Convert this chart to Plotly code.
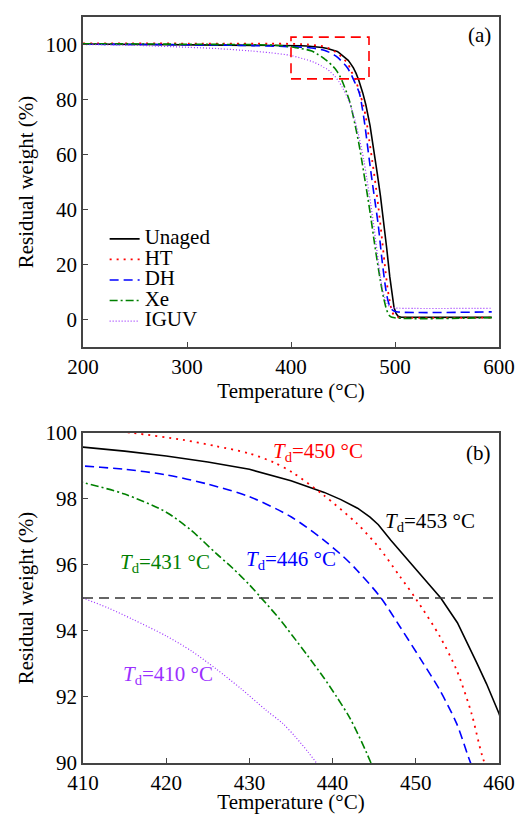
import plotly.graph_objects as go
from plotly.subplots import make_subplots

# ---------------- data ----------------
unaged_T = [200, 250, 300, 350, 380, 400, 410, 415, 420, 425, 430, 435, 439, 441, 443, 444.5, 445.5, 447, 449, 451, 453, 455,
            457.3, 458.5, 460, 462.5, 465, 469, 472, 476, 480, 483, 486, 489, 492, 495, 497, 499, 501, 503, 506, 520, 593]
unaged_W = [100.2, 100.1, 100.0, 99.9, 99.8, 99.7, 99.57, 99.45, 99.3, 99.12, 98.9, 98.55, 98.2, 97.98, 97.72, 97.45, 97.22, 96.75, 96.15, 95.58, 95.0, 94.25,
            93.05, 92.4, 91.5, 89.6, 87.2, 82.4, 78.0, 70.5, 61.0, 53.0, 45.0, 36.0, 26.0, 15.5, 9.0, 4.5, 2.2, 1.2, 0.85, 0.8, 0.8]

ht_T = [200, 300, 400, 410, 416, 422, 426, 430, 433, 435.2, 438.9, 442.9, 445.5, 448.1, 450.1, 452.9, 454.9, 456.7, 458, 460,
        463, 466, 469.5, 472, 475.3, 478, 481, 484, 487, 490, 493, 495, 497, 499, 502, 506, 593]
ht_W = [100.4, 100.35, 100.25, 100.15, 100.0, 99.79, 99.6, 99.38, 99.1, 98.8, 98.12, 97.26, 96.55, 95.65, 94.94, 93.83, 92.82, 91.5, 90.2, 88.8,
        86.0, 82.5, 78.0, 73.5, 65.0, 58.0, 50.0, 41.0, 31.0, 20.5, 11.0, 6.5, 3.2, 1.6, 0.9, 0.7, 0.7]

dh_T = [200, 300, 350, 380, 400, 410, 415, 420, 425, 430, 435, 438.9, 441.3, 442.9, 445.7, 448.1, 450.9, 452.9, 454.9, 456.3,
        458, 461, 465.7, 468.5, 471.2, 475.3, 478.5, 481.5, 484, 487.2, 491.3, 493.5, 495.5, 498, 501.5, 593]
dh_W = [100.1, 99.9, 99.7, 99.45, 99.2, 99.0, 98.9, 98.73, 98.45, 98.07, 97.46, 96.76, 96.25, 95.85, 95.04, 94.13, 93.02, 92.2, 91.2, 90.2,
        89.0, 86.5, 82.4, 77.0, 70.2, 58.0, 49.0, 41.0, 34.0, 22.7, 10.6, 6.5, 4.5, 3.3, 2.8, 2.8]

xe_T = [200, 300, 370, 390, 400, 405, 410, 415, 420, 423, 426, 428, 430, 431.6, 433.5, 435.2, 437, 438.9, 440.5, 442.1, 444.1,
        447, 450, 453.5, 457, 461.5, 465, 468, 471, 474, 477, 480, 483, 486, 489, 492, 494.5, 497, 593]
xe_W = [100.3, 100.1, 99.9, 99.6, 99.2, 98.85, 98.5, 98.15, 97.6, 97.05, 96.35, 95.9, 95.4, 94.95, 94.4, 93.85, 93.25, 92.6, 92.0, 91.35, 90.3,
        88.5, 86.0, 82.5, 78.5, 71.0, 64.5, 58.0, 51.0, 44.0, 36.5, 28.5, 21.0, 14.0, 8.0, 3.5, 1.5, 0.8, 0.7]

iguv_T = [200, 250, 300, 330, 360, 380, 400, 410, 413, 416, 420, 423, 426, 429, 432, 434, 435.5, 437, 438.2, 442, 446, 450,
          455, 460, 465, 470, 473, 476.6, 480, 484, 487, 490, 493, 496, 500, 593]
iguv_W = [100.0, 99.7, 99.0, 98.5, 97.7, 97.0, 96.0, 95.0, 94.7, 94.35, 93.85, 93.4, 92.85, 92.25, 91.6, 91.2, 90.8, 90.35, 89.95, 88.5, 86.5, 84.0,
          80.0, 74.5, 67.0, 58.0, 51.0, 42.0, 33.0, 21.0, 13.0, 8.0, 5.5, 4.5, 4.2, 4.1]

series_names = ["Unaged", "HT", "DH", "Xe", "IGUV"]
series_T = [unaged_T, ht_T, dh_T, xe_T, iguv_T]
series_W = [unaged_W, ht_W, dh_W, xe_W, iguv_W]
series_color = ["#000000", "#FF0000", "#0000FF", "#008000", "#9B30FF"]
series_dash = ["solid", "2px,5px", "9px,5px", "8px,3px,2px,3px", "1px,2px"]
series_width = [1.6, 1.8, 1.6, 1.6, 1.2]
series_shape = ["linear", "spline", "spline", "spline", "spline"]

threshold_T = [410, 460]
threshold_W = [95, 95]

td_labels = ["450", "453", "446", "431", "410"]
td_x = [438.2, 451.7, 435.0, 419.9, 420.2]
td_y = [99.42, 97.3, 96.15, 96.05, 92.67]
td_color = ["#FF0000", "#000000", "#0000FF", "#008000", "#9B30FF"]

zoom_box_x = [400, 475]
zoom_box_y = [87.5, 102.7]

FONT = "Liberation Serif"
FS = 21

fig = make_subplots(rows=2, cols=1)

for name, T, W, c, d, w, s in zip(series_names, series_T, series_W, series_color, series_dash, series_width, series_shape):
    fig.add_trace(go.Scatter(x=T, y=W, mode="lines",
                             name="<span style='font-size:%dpx'>%s</span>" % (FS, name),
                             line=dict(color=c, dash=d, width=w, shape=s, smoothing=0.8)), row=1, col=1)
for name, T, W, c, d, w, s in zip(series_names, series_T, series_W, series_color, series_dash, series_width, series_shape):
    fig.add_trace(go.Scatter(x=T, y=W, mode="lines", name=name, showlegend=False,
                             line=dict(color=c, dash=d, width=w, shape=s, smoothing=0.8)), row=2, col=1)
fig.add_trace(go.Scatter(x=threshold_T, y=threshold_W, mode="lines", showlegend=False,
                         line=dict(color="#333333", dash="10px,6px", width=1.5)), row=2, col=1)

fig.add_shape(type="rect", xref="x", yref="y", x0=zoom_box_x[0], x1=zoom_box_x[1],
              y0=zoom_box_y[0], y1=zoom_box_y[1], line=dict(color="#FF0000", dash="10px,6px", width=1.6))

for lab, x, y, c in zip(td_labels, td_x, td_y, td_color):
    fig.add_annotation(x=x, y=y, xref="x2", yref="y2", showarrow=False,
                       text="<i>T</i><sub>d</sub>=" + lab + " °C",
                       font=dict(family=FONT, size=FS, color=c))

fig.add_annotation(x=0.954, y=0.945, xref="x domain", yref="y domain", text="(a)", showarrow=False,
                   xanchor="center", yanchor="middle",
                   font=dict(family=FONT, size=FS, color="black"))
fig.add_annotation(x=0.95, y=0.939, xref="x2 domain", yref="y2 domain", text="(b)", showarrow=False,
                   xanchor="center", yanchor="middle",
                   font=dict(family=FONT, size=FS, color="black"))

axis_common = dict(showline=True, linecolor="#444444", linewidth=1.5, mirror=True, automargin=False,
                   ticks="inside", ticklen=5, tickcolor="#444444", showgrid=False, zeroline=False,
                   tickfont=dict(family=FONT, size=FS, color="black"))

fig.update_xaxes(axis_common)
fig.update_yaxes(axis_common)

title_font = dict(family=FONT, size=FS, color="black")
fig.update_xaxes(range=[200, 600], tickvals=[200, 300, 400, 500, 600], domain=[0, 1],
                 title=dict(text="Temperature (°C)", font=title_font, standoff=0),
                 row=1, col=1)
fig.update_yaxes(range=[-10, 110], tickvals=[0, 20, 40, 60, 80, 100], domain=[0.5576, 1],
                 title=dict(text="Residual weight (%)", font=title_font, standoff=6),
                 row=1, col=1)
fig.update_xaxes(range=[410, 460], tickvals=[410, 420, 430, 440, 450, 460], domain=[0, 1],
                 title=dict(text="Temperature (°C)", font=title_font, standoff=0),
                 row=2, col=1)
fig.update_yaxes(range=[90, 100], tickvals=[90, 92, 94, 96, 98, 100], domain=[0, 0.4424],
                 title=dict(text="Residual weight (%)", font=title_font, standoff=6),
                 row=2, col=1)

fig.update_layout(
    width=515, height=814,
    margin=dict(l=83, r=16, t=17, b=51, autoexpand=False),
    paper_bgcolor="white", plot_bgcolor="white",
    font=dict(family=FONT, size=FS, color="black"),
    legend=dict(x=0.052, y=0.7231, xanchor="left", yanchor="top", bgcolor="rgba(0,0,0,0)",
                font=dict(family=FONT, size=13.5, color="black"), itemwidth=30, tracegroupgap=0),
)

# remove the browser's default 8 px body margin so the 515x814 figure fills the window exactly
fig.write_html("out.html",
               config={"displayModeBar": False},
               post_script="document.body.style.margin='0';document.body.style.overflow='hidden';")
